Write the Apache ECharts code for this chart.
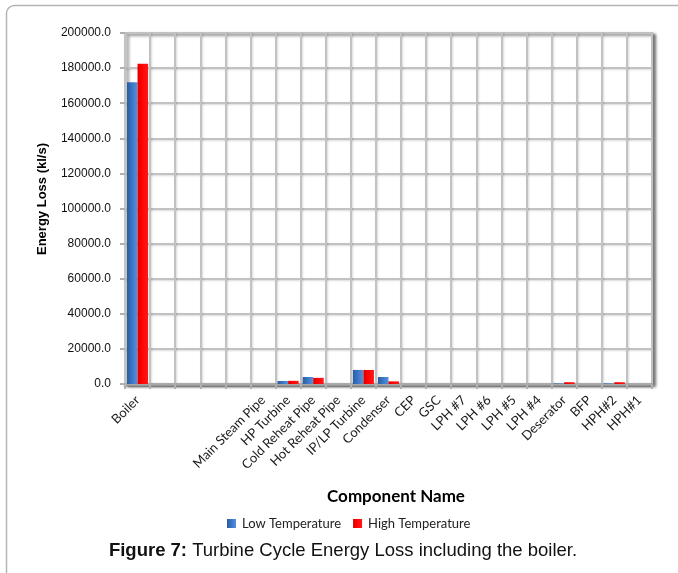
<!DOCTYPE html>
<html>
<head>
<meta charset="utf-8">
<script src="https://cdn.jsdelivr.net/npm/echarts@6/dist/echarts.min.js"></script>
<style>
  html, body { margin: 0; padding: 0; background: #ffffff; }
  #chart { width: 678px; height: 573px; }
</style>
</head>
<body>
<div id="chart"></div>
<script>
// Plant components along the turbine cycle (four unlabeled slots after the boiler)
const categories = [
  'Boiler', '', '', '', '', 'Main Steam Pipe', 'HP Turbine', 'Cold Reheat Pipe',
  'Hot Reheat Pipe', 'IP/LP Turbine', 'Condenser', 'CEP', 'GSC', 'LPH #7',
  'LPH #6', 'LPH #5', 'LPH #4', 'Deserator', 'BFP', 'HPH#2', 'HPH#1'
];

// Energy loss, kl/s
const lowTemperature = [
  172000, 0, 0, 0, 0, 0, 1700, 4000,
  0, 8000, 4000, 0, 0, 0,
  0, 0, 0, 300, 0, 300, 0
];
const highTemperature = [
  182500, 0, 0, 0, 0, 0, 1800, 3500,
  0, 8000, 1500, 0, 0, 0,
  0, 0, 0, 1000, 0, 1000, 0
];

const seriesNames = ['Low Temperature', 'High Temperature'];
const yMin = 0, yMax = 200000, yStep = 20000;

const blueFill = new echarts.graphic.LinearGradient(0, 0, 1, 0, [
  { offset: 0, color: '#2b5c9e' },
  { offset: 0.5, color: '#3b77c6' },
  { offset: 1, color: '#5592dc' }
]);
const redFill = new echarts.graphic.LinearGradient(0, 0, 1, 0, [
  { offset: 0, color: '#d40000' },
  { offset: 0.35, color: '#ff0000' },
  { offset: 1, color: '#ff1a1a' }
]);

const chart = echarts.init(document.getElementById('chart'), null, { renderer: 'canvas' });

chart.setOption({
  backgroundColor: '#ffffff',
  animation: false,
  grid: {
    left: 125, right: 26, top: 33, bottom: 189,
    show: true,
    backgroundColor: '#ffffff',
    borderColor: '#c4c4c4',
    borderWidth: 2,
    shadowColor: 'rgba(0,0,0,0.45)',
    shadowBlur: 3,
    shadowOffsetX: 3,
    shadowOffsetY: 2
  },
  legend: {
    data: seriesNames,
    bottom: 38,
    left: 222,
    itemWidth: 9,
    itemHeight: 9,
    itemGap: 12,
    icon: 'rect',
    textStyle: { fontFamily: 'Lato', fontSize: 13, color: '#222', padding: [0, 0, 0, 1] }
  },
  xAxis: {
    type: 'category',
    data: categories,
    boundaryGap: true,
    axisLine: { show: true, lineStyle: { color: '#a8a8a8', width: 2.5, shadowColor: 'rgba(0,0,0,0.3)', shadowBlur: 2, shadowOffsetY: 1 } },
    axisTick: { show: true, inside: false, length: 5, lineStyle: { color: '#b0b0b0', width: 2 } },
    splitLine: { show: true, lineStyle: { color: '#c2c2c2', width: 2, shadowColor: 'rgba(0,0,0,0.15)', shadowBlur: 2, shadowOffsetX: 1 } },
    axisLabel: {
      interval: 0,
      rotate: 45,
      margin: 14,
      fontFamily: 'Lato',
      fontSize: 13,
      color: '#1a1a1a'
    }
  },
  yAxis: {
    type: 'value',
    min: yMin,
    max: yMax,
    interval: yStep,
    axisLine: { show: true, lineStyle: { color: '#c4c4c4', width: 2 } },
    axisTick: { show: true, length: 5, lineStyle: { color: '#b0b0b0', width: 2 } },
    splitLine: { show: true, lineStyle: { color: '#c2c2c2', width: 2, shadowColor: 'rgba(0,0,0,0.15)', shadowBlur: 2, shadowOffsetY: 1 } },
    axisLabel: {
      margin: 14,
      fontFamily: 'Liberation Sans',
      fontSize: 12,
      color: '#111',
      formatter: v => v.toFixed(1)
    }
  },
  series: [
    {
      name: seriesNames[0],
      type: 'bar',
      data: lowTemperature,
      barGap: '0%',
      barCategoryGap: '16%',
      itemStyle: { color: blueFill }
    },
    {
      name: seriesNames[1],
      type: 'bar',
      data: highTemperature,
      barGap: '0%',
      barCategoryGap: '16%',
      itemStyle: { color: redFill }
    }
  ],
  graphic: [
    {
      type: 'rect',
      silent: true,
      shape: { x: 6.5, y: 5.5, width: 720, height: 640, r: 8 },
      style: { fill: 'none', stroke: '#b4b4b4', lineWidth: 1.5 }
    },
    {
      type: 'text',
      silent: true,
      x: 42, y: 199,
      rotation: Math.PI / 2,
      style: {
        text: 'Energy Loss (kl/s)',
        fontFamily: 'Liberation Sans',
        fontWeight: 'bold',
        fontSize: 13,
        fill: '#000',
        align: 'center',
        verticalAlign: 'middle'
      }
    },
    {
      type: 'text',
      silent: true,
      x: 396, y: 497,
      style: {
        text: 'Component Name',
        fontFamily: 'Lato',
        fontWeight: 'bold',
        fontSize: 17,
        fill: '#000',
        align: 'center',
        verticalAlign: 'middle'
      }
    },
    {
      type: 'text',
      silent: true,
      x: 343, y: 551,
      style: {
        text: '{b|Figure 7:} Turbine Cycle Energy Loss including the boiler.',
        fontFamily: 'Liberation Sans',
        fontSize: 18.5,
        fill: '#111',
        align: 'center',
        verticalAlign: 'middle',
        rich: {
          b: { fontFamily: 'Liberation Sans', fontWeight: 'bold', fontSize: 18.5, fill: '#111' }
        }
      }
    }
  ]
});
</script>
</body>
</html>
